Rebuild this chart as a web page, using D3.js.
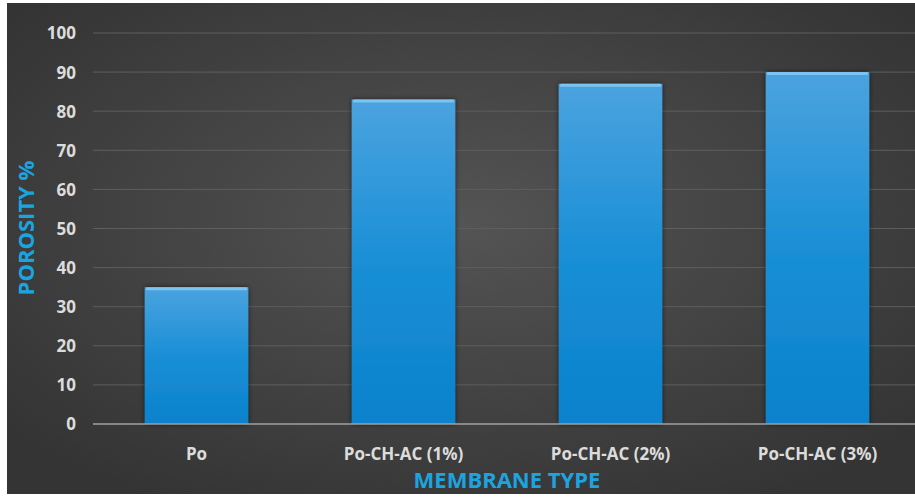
<!DOCTYPE html>
<html><head><meta charset="utf-8">
<script src="https://cdn.jsdelivr.net/npm/d3@7"></script>
<style>html,body{margin:0;padding:0;background:#fff;}svg{display:block;}</style>
</head><body>
<script>
const categories = ["Po", "Po-CH-AC (1%)", "Po-CH-AC (2%)", "Po-CH-AC (3%)"];
const porosity = [35, 83, 87, 90];
const yTicks = [0, 10, 20, 30, 40, 50, 60, 70, 80, 90, 100];
const yTitle = "POROSITY %";
const xTitle = "MEMBRANE TYPE";

const W = 915, H = 497;
const svg = d3.select("body").append("svg").attr("width", W).attr("height", H);
const defs = svg.append("defs");

const bg = defs.append("radialGradient").attr("id","bg").attr("cx","50%").attr("cy","45%").attr("r","65%");
bg.append("stop").attr("offset","0%").attr("stop-color","#545454");
bg.append("stop").attr("offset","100%").attr("stop-color","#343434");

const bar = defs.append("linearGradient").attr("id","bar").attr("x1",0).attr("y1",0).attr("x2",0).attr("y2",1);
bar.append("stop").attr("offset","0%").attr("stop-color","#4ba3df");
bar.append("stop").attr("offset","50%").attr("stop-color","#1a8fd6");
bar.append("stop").attr("offset","100%").attr("stop-color","#0a82cc");

const sh = defs.append("filter").attr("id","sh").attr("x","-20%").attr("y","-20%").attr("width","140%").attr("height","140%");
sh.append("feDropShadow").attr("dx",0).attr("dy",0).attr("stdDeviation",2.5).attr("flood-color","#000").attr("flood-opacity",0.6);

svg.append("rect").attr("x",7).attr("y",3).attr("width",W-7).attr("height",491).attr("fill","url(#bg)");

const x = d3.scaleBand().domain(categories).range([93, 921]).paddingInner(0.5).paddingOuter(0.25);
const y = d3.scaleLinear().domain([0, 100]).range([424, 33]);

// gridlines
svg.append("g").selectAll("line").data(yTicks.filter(d => d > 0)).join("line")
  .attr("x1", 93).attr("x2", W).attr("y1", d => y(d)).attr("y2", d => y(d))
  .attr("stroke", "#5e5e5e").attr("stroke-width", 1);

// y axis labels
const yAxis = d3.axisLeft(y).tickValues(yTicks).tickSize(0).tickPadding(0);
const gy = svg.append("g").attr("transform","translate(76,0)").call(yAxis);
gy.select(".domain").remove();
gy.selectAll("text").attr("fill","#dcdcdc").style("font","bold 17px 'Open Sans'").attr("dy","0.35em");

// bars
svg.append("g").selectAll("rect").data(porosity).join("rect")
  .attr("x", (d,i) => x(categories[i])).attr("width", x.bandwidth())
  .attr("y", d => y(d)).attr("height", d => y(0) - y(d))
  .attr("fill", "url(#bar)").attr("filter","url(#sh)");
// top highlight
svg.append("g").selectAll("rect").data(porosity).join("rect")
  .attr("x", (d,i) => x(categories[i]) + 1).attr("width", x.bandwidth() - 2)
  .attr("y", d => y(d)).attr("height", 3)
  .attr("fill", "#7cc4f0").attr("rx", 1.5);

// x axis line
svg.append("line").attr("x1",93).attr("x2",W).attr("y1",y(0)).attr("y2",y(0))
  .attr("stroke","#a0a0a0").attr("stroke-width",1.5);

// x axis labels
const xAxis = d3.axisBottom(x).tickSize(0).tickPadding(0);
const gx = svg.append("g").attr("transform",`translate(0,${y(0)})`).call(xAxis);
gx.select(".domain").remove();
gx.selectAll("text").attr("fill","#dcdcdc").attr("y", 36).attr("dy", 0).style("font","bold 17px 'Open Sans'");

// titles
svg.append("text").attr("transform","translate(34,228) rotate(-90)").attr("text-anchor","middle")
  .attr("fill","#1ba5e0").style("font","bold 22px 'Open Sans'").text(yTitle);
svg.append("text").attr("x",507).attr("y",488).attr("text-anchor","middle")
  .attr("fill","#1ba5e0").style("font","bold 22px 'Open Sans'").text(xTitle);
</script>
</body></html>
